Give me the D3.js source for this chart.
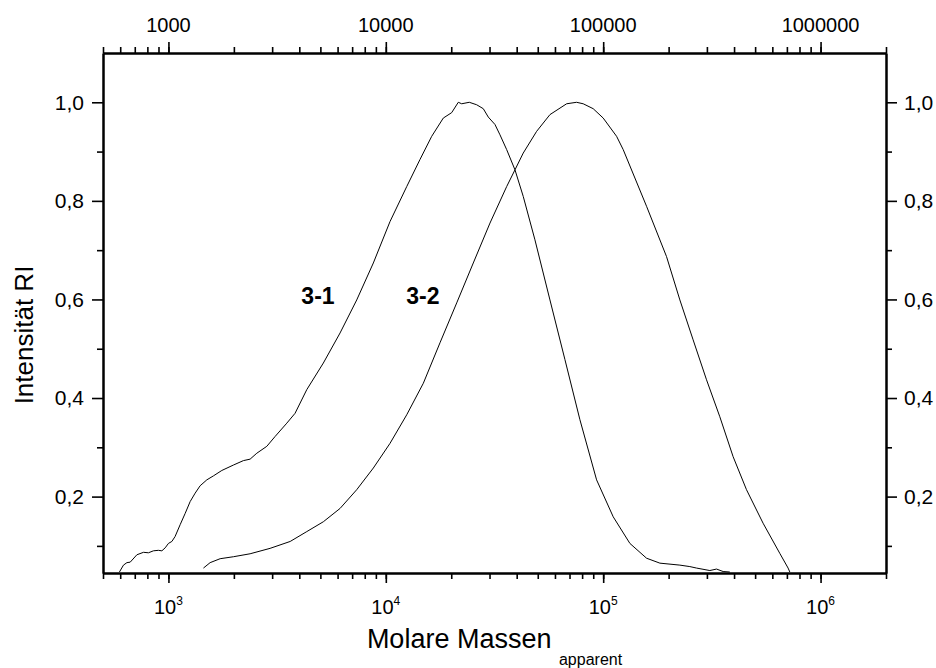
<!DOCTYPE html>
<html>
<head>
<meta charset="utf-8">
<script src="https://cdn.jsdelivr.net/npm/d3@7"></script>
<style>
  body { margin: 0; background: #fff; }
  text { font-family: "Liberation Sans", Arial, sans-serif; fill: #000; }
</style>
</head>
<body>
<div id="container"></div>
<script>
/* CONSTANTS AND GLOBALS */
const width = 936;
const height = 668;
const margin = { top: 53, right: 50, bottom: 95, left: 103 };

/* DATA */
// sample 3-1: apparent molar mass and normalised RI intensity
const mass31 = [595, 621, 644, 667, 716, 768, 809, 853, 899, 933, 966, 1000, 1037, 1073, 1132, 1194, 1259, 1327, 1399, 1502,
  1610, 1760, 1990, 2212, 2375, 2550, 2835, 3095, 3504, 3824, 4329, 5160, 6160, 7348, 8763, 10454, 12480, 14365, 16260, 18385,
  20095, 21550, 22340, 24210, 26180, 28080, 29610, 31780, 33510, 35970, 39280, 42880, 48530, 56890, 66680, 78150, 93250, 111200,
  132700, 158300, 182300, 225300, 250400, 268900, 309500, 332200, 356300, 382300];
const int31 = [0.047, 0.061, 0.066, 0.067, 0.082, 0.087, 0.086, 0.090, 0.091, 0.090, 0.096, 0.105, 0.109, 0.119, 0.143, 0.166,
  0.190, 0.207, 0.222, 0.234, 0.242, 0.253, 0.264, 0.273, 0.276, 0.288, 0.302, 0.322, 0.349, 0.369, 0.417, 0.471, 0.532, 0.599,
  0.674, 0.758, 0.829, 0.884, 0.931, 0.968, 0.979, 1.000, 0.997, 1.000, 0.995, 0.987, 0.970, 0.955, 0.934, 0.904, 0.863, 0.809,
  0.721, 0.599, 0.478, 0.356, 0.234, 0.159, 0.105, 0.075, 0.065, 0.061, 0.058, 0.055, 0.050, 0.053, 0.048, 0.047];

// sample 3-2
const mass32 = [1449, 1555, 1729, 1990, 2375, 2935, 3631, 4329, 5160, 6160, 7348, 8763, 10454, 12480, 14880, 17750, 21190,
  25260, 30150, 35970, 39280, 42880, 49400, 56890, 67900, 75440, 80920, 89950, 100000, 115250, 123600, 158300, 195600, 225300,
  259300, 298800, 344000, 396000, 456300, 544000, 649000, 709000, 722000];
const int32 = [0.055, 0.066, 0.074, 0.078, 0.084, 0.095, 0.109, 0.129, 0.149, 0.176, 0.214, 0.258, 0.308, 0.366, 0.430, 0.512,
  0.593, 0.674, 0.755, 0.829, 0.863, 0.897, 0.941, 0.975, 0.997, 1.000, 0.997, 0.987, 0.968, 0.931, 0.904, 0.789, 0.687, 0.599,
  0.518, 0.437, 0.362, 0.281, 0.214, 0.146, 0.085, 0.055, 0.047];

const seriesNames = ["3-1", "3-2"];
const labelMass = [4875, 14800]; // where the series names sit
const labelInt = [0.59, 0.59];

// ticks
const majorX = [1e3, 1e4, 1e5, 1e6];
const topLabels = ["1000", "10000", "100000", "1000000"];
const bottomExp = ["3", "4", "5", "6"];
const majorY = [0.2, 0.4, 0.6, 0.8, 1.0];
const yLabels = ["0,2", "0,4", "0,6", "0,8", "1,0"];
const minorY = [0.1, 0.3, 0.5, 0.7, 0.9];

/* SCALES */
const xScale = d3.scaleLog()
  .domain([500, 2e6])
  .range([margin.left, width - margin.right]);

const yScale = d3.scaleLinear()
  .domain([0.045, 1.1])
  .range([height - margin.bottom, margin.top]);

/* SVG */
const svg = d3.select("#container")
  .append("svg")
  .attr("width", width)
  .attr("height", height);

/* CURVES */
const line = d3.line()
  .x(d => xScale(d[0]))
  .y(d => yScale(d[1]));

const series = [d3.zip(mass31, int31), d3.zip(mass32, int32)];

svg.selectAll("path.curve")
  .data(series)
  .join("path")
  .attr("class", "curve")
  .attr("d", line)
  .attr("fill", "none")
  .attr("stroke", "#000")
  .attr("stroke-width", 1);

svg.selectAll("text.name")
  .data(seriesNames)
  .join("text")
  .attr("class", "name")
  .attr("x", (d, i) => xScale(labelMass[i]))
  .attr("y", (d, i) => yScale(labelInt[i]))
  .attr("text-anchor", "middle")
  .attr("font-size", 23)
  .attr("font-weight", "bold")
  .text(d => d);

/* AXES */
const minorX = xScale.ticks();
const bottomY = height - margin.bottom;
const rightX = width - margin.right;

// helper to make axis lines thick and black
function styleAxis(g, w) {
  g.select(".domain").attr("stroke", "#000").attr("stroke-width", 2);
  g.selectAll(".tick line").attr("stroke", "#000").attr("stroke-width", w);
}

// bottom
svg.append("g").attr("transform", `translate(0,${bottomY})`)
  .call(d3.axisBottom(xScale).tickValues(minorX).tickSize(6).tickSizeOuter(0).tickFormat(""))
  .call(g => styleAxis(g, 1.6));
svg.append("g").attr("transform", `translate(0,${bottomY})`)
  .call(d3.axisBottom(xScale).tickValues(majorX).tickSize(10).tickSizeOuter(0).tickFormat(""))
  .call(g => styleAxis(g, 1.6));

// top
svg.append("g").attr("transform", `translate(0,${margin.top})`)
  .call(d3.axisTop(xScale).tickValues(minorX).tickSize(6).tickSizeOuter(0).tickFormat(""))
  .call(g => styleAxis(g, 1.6));
svg.append("g").attr("transform", `translate(0,${margin.top})`)
  .call(d3.axisTop(xScale).tickValues(majorX).tickSize(11).tickSizeOuter(0).tickFormat(""))
  .call(g => styleAxis(g, 1.6));

// left
svg.append("g").attr("transform", `translate(${margin.left},0)`)
  .call(d3.axisLeft(yScale).tickValues(minorY).tickSize(6).tickSizeOuter(0).tickFormat(""))
  .call(g => styleAxis(g, 1.6));
svg.append("g").attr("transform", `translate(${margin.left},0)`)
  .call(d3.axisLeft(yScale).tickValues(majorY).tickSize(11).tickSizeOuter(0).tickFormat(""))
  .call(g => styleAxis(g, 1.6));

// right
svg.append("g").attr("transform", `translate(${rightX},0)`)
  .call(d3.axisRight(yScale).tickValues(minorY).tickSize(6).tickSizeOuter(0).tickFormat(""))
  .call(g => styleAxis(g, 1.6));
svg.append("g").attr("transform", `translate(${rightX},0)`)
  .call(d3.axisRight(yScale).tickValues(majorY).tickSize(11).tickSizeOuter(0).tickFormat(""))
  .call(g => styleAxis(g, 1.6));

/* TICK LABELS */
// top: plain numbers
svg.selectAll("text.top")
  .data(majorX)
  .join("text")
  .attr("class", "top")
  .attr("x", d => xScale(d))
  .attr("y", 32)
  .attr("text-anchor", "middle")
  .attr("font-size", 20)
  .text((d, i) => topLabels[i]);

// bottom: powers of ten
const bottomLab = svg.selectAll("text.bottom")
  .data(majorX)
  .join("text")
  .attr("class", "bottom")
  .attr("x", d => xScale(d))
  .attr("y", 614)
  .attr("text-anchor", "middle")
  .attr("font-size", 20);
bottomLab.append("tspan").text("10");
bottomLab.append("tspan")
  .attr("dy", -9)
  .attr("font-size", 12)
  .text((d, i) => bottomExp[i]);

// left and right
svg.selectAll("text.yl")
  .data(majorY)
  .join("text")
  .attr("class", "yl")
  .attr("x", margin.left - 19)
  .attr("y", d => yScale(d))
  .attr("dy", "0.35em")
  .attr("text-anchor", "end")
  .attr("font-size", 21)
  .text((d, i) => yLabels[i]);

svg.selectAll("text.yr")
  .data(majorY)
  .join("text")
  .attr("class", "yr")
  .attr("x", rightX + 18)
  .attr("y", d => yScale(d))
  .attr("dy", "0.35em")
  .attr("text-anchor", "start")
  .attr("font-size", 21)
  .text((d, i) => yLabels[i]);

/* AXIS TITLES */
svg.append("text")
  .attr("transform", "translate(33,335) rotate(-90)")
  .attr("text-anchor", "middle")
  .attr("font-size", 26)
  .text("Intensität RI");

const xTitle = svg.append("text")
  .attr("x", (margin.left + rightX) / 2)
  .attr("y", 648)
  .attr("text-anchor", "middle")
  .attr("font-size", 27);
xTitle.append("tspan").text("Molare Massen ");
xTitle.append("tspan")
  .attr("dy", 17)
  .attr("font-size", 16)
  .text("apparent");
</script>
</body>
</html>
